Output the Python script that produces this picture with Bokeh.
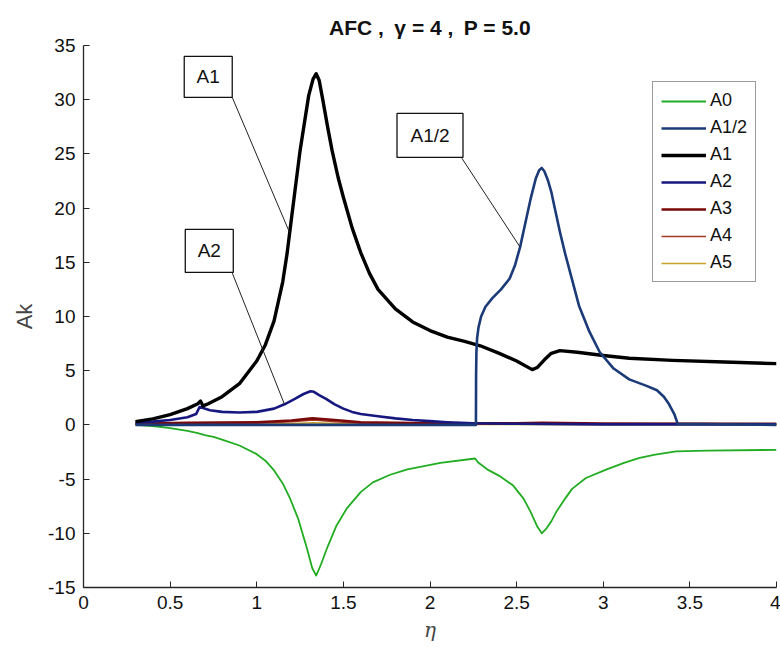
import numpy as np
from bokeh.plotting import figure
from bokeh.models import Range1d, FixedTicker, Legend, LegendItem
from bokeh.core.properties import value
from bokeh.embed import file_html
from bokeh.resources import INLINE

# ---------------- data ----------------
eta_a0 = [0.30, 0.40, 0.50, 0.60, 0.66, 0.70, 0.75, 0.80, 0.90, 1.00, 1.05, 1.10, 1.15, 1.19,
          1.24, 1.29, 1.32, 1.343, 1.37, 1.41, 1.46, 1.52, 1.60, 1.67, 1.77, 1.87, 2.06, 2.26,
          2.28, 2.33, 2.40, 2.48, 2.54, 2.58, 2.62, 2.645, 2.67, 2.70, 2.73, 2.78, 2.82, 2.90,
          3.02, 3.12, 3.21, 3.30, 3.42, 3.60, 4.00]
a0 = [0.0, -0.1, -0.3, -0.55, -0.75, -0.95, -1.1, -1.35, -1.9, -2.7, -3.3, -4.2, -5.4, -6.7,
      -8.7, -11.4, -13.2, -13.9, -12.9, -11.2, -9.3, -7.7, -6.2, -5.3, -4.6, -4.1, -3.5, -3.1,
      -3.5, -4.1, -4.7, -5.6, -6.8, -8.0, -9.4, -10.0, -9.6, -8.9, -8.0, -6.8, -5.9, -4.9,
      -4.1, -3.5, -3.05, -2.75, -2.45, -2.38, -2.3]

eta_a12 = [0.30, 2.265, 2.266, 2.268, 2.272, 2.28, 2.295, 2.32, 2.36, 2.41, 2.46, 2.49, 2.52,
           2.55, 2.58, 2.61, 2.63, 2.645, 2.66, 2.68, 2.70, 2.72, 2.75, 2.78, 2.81, 2.86, 2.92,
           2.98, 3.06, 3.15, 3.25, 3.31, 3.35, 3.38, 3.41, 3.43, 4.00]
a12 = [0.0, 0.0, 4.5, 6.8, 8.0, 9.0, 10.0, 10.9, 11.7, 12.5, 13.5, 14.7, 16.4,
       18.6, 20.8, 22.7, 23.5, 23.7, 23.4, 22.6, 21.5, 20.0, 17.8, 15.8, 14.0, 11.0, 8.6,
       6.7, 5.2, 4.2, 3.6, 3.2, 2.6, 1.9, 1.0, 0.1, 0.0]

eta_a1 = [0.30, 0.40, 0.50, 0.60, 0.66, 0.675, 0.69, 0.72, 0.80, 0.90, 1.00, 1.05, 1.10, 1.15,
          1.175, 1.20, 1.25, 1.30, 1.325, 1.343, 1.36, 1.38, 1.41, 1.435, 1.47, 1.50, 1.55,
          1.60, 1.65, 1.70, 1.80, 1.90, 2.00, 2.10, 2.20, 2.29, 2.40, 2.50, 2.59, 2.62, 2.66,
          2.70, 2.75, 2.85, 3.00, 3.15, 3.40, 3.70, 4.00]
a1 = [0.3, 0.55, 0.95, 1.5, 1.95, 2.2, 1.75, 1.95, 2.6, 3.8, 5.9, 7.4, 9.6, 13.2,
      15.8, 19.0, 25.3, 30.4, 31.9, 32.4, 31.8, 30.1, 27.4, 25.3, 22.8, 21.0, 18.2,
      15.9, 14.0, 12.5, 10.7, 9.5, 8.7, 8.1, 7.7, 7.3, 6.6, 5.9, 5.1, 5.3, 6.0,
      6.6, 6.85, 6.7, 6.4, 6.15, 5.95, 5.8, 5.65]

eta_a2 = [0.30, 0.40, 0.50, 0.60, 0.65, 0.67, 0.69, 0.73, 0.80, 0.90, 1.00, 1.10, 1.16, 1.22,
          1.27, 1.31, 1.33, 1.36, 1.40, 1.45, 1.50, 1.55, 1.60, 1.70, 1.80, 1.90, 2.00, 2.10,
          2.25, 2.50, 3.00, 4.00]
a2 = [0.2, 0.3, 0.45, 0.7, 1.0, 1.65, 1.55, 1.35, 1.2, 1.15, 1.2, 1.5, 1.9, 2.4,
      2.85, 3.1, 3.05, 2.75, 2.4, 1.9, 1.5, 1.2, 1.0, 0.8, 0.6, 0.45, 0.35, 0.25,
      0.15, 0.1, 0.05, 0.05]

eta_a3 = [0.30, 0.60, 1.00, 1.20, 1.32, 1.45, 1.60, 2.00, 2.50, 2.65, 3.00, 4.00]
a3 = [0.1, 0.2, 0.25, 0.4, 0.6, 0.45, 0.25, 0.15, 0.15, 0.2, 0.12, 0.1]

eta_a4 = [0.30, 0.60, 1.00, 1.20, 1.33, 1.45, 1.60, 2.00, 3.00, 4.00]
a4 = [0.05, 0.1, 0.15, 0.3, 0.45, 0.3, 0.15, 0.08, 0.05, 0.05]

eta_a5 = [0.30, 0.60, 1.00, 1.20, 1.33, 1.45, 1.60, 2.00, 3.00, 4.00]
a5 = [0.02, 0.04, 0.06, 0.12, 0.2, 0.12, 0.06, 0.04, 0.02, 0.02]

x_ticks = [0, 0.5, 1, 1.5, 2, 2.5, 3, 3.5, 4]
x_tick_labels = ["0", "0.5", "1", "1.5", "2", "2.5", "3", "3.5", "4"]
y_ticks = [-15, -10, -5, 0, 5, 10, 15, 20, 25, 30, 35]
y_tick_labels = ["-15", "-10", "-5", "0", "5", "10", "15", "20", "25", "30", "35"]

# annotations: text, box centre, leader start, target eta
ann_text = ["A1", "A2", "A1/2"]
ann_x = [0.72, 0.726, 2.0]
ann_y = [32.1, 16.05, 26.7]
ann_x0 = [0.859, 0.859, 2.184]
ann_y0 = [30.2, 14.0, 24.6]
ann_tx = [1.19, 1.16, 2.52]

# ---------------- figure ----------------
FONT = "Liberation Sans"
p = figure(width=780, height=657, output_backend="svg", toolbar_location=None,
           x_range=Range1d(0, 4), y_range=Range1d(-15, 35),
           min_border_left=83, min_border_right=4, min_border_top=45, min_border_bottom=70)
p.outline_line_color = None
p.xgrid.visible = False
p.ygrid.visible = False
p.background_fill_color = "white"
p.border_fill_color = "white"

p.title.text = "AFC ,\u2002\u03b3 = 4 ,\u2002P = 5.0"
p.title.align = "center"
p.title.vertical_align = "top"
p.title.text_font = FONT
p.title.text_font_size = "21px"
p.title.text_font_style = "bold"
p.title.text_color = "#111111"
p.title.offset = 0
p.title.standoff = 10

for ax in (p.xaxis[0], p.yaxis[0]):
    ax.axis_line_color = "#262626"
    ax.axis_line_width = 1.3
    ax.major_tick_line_color = "#262626"
    ax.major_tick_in = 6
    ax.major_tick_out = 0
    ax.minor_tick_line_color = None
    ax.major_label_text_font = FONT
    ax.major_label_text_font_size = "19px"
    ax.major_label_text_color = "#111111"
    ax.major_label_standoff = 8

p.xaxis.ticker = FixedTicker(ticks=x_ticks)
p.xaxis.major_label_overrides = {t: s for t, s in zip(x_ticks, x_tick_labels)}
p.yaxis.ticker = FixedTicker(ticks=y_ticks)
p.yaxis.major_label_overrides = {t: s for t, s in zip(y_ticks, y_tick_labels)}

p.xaxis.axis_label = "\u03b7"
p.xaxis.axis_label_text_font = "DejaVu Serif"
p.xaxis.axis_label_text_font_style = "italic"
p.xaxis.axis_label_text_font_size = "20px"
p.xaxis.axis_label_standoff = 6
p.yaxis.axis_label = "Ak"
p.yaxis.axis_label_text_font = FONT
p.yaxis.axis_label_text_font_style = "normal"
p.yaxis.axis_label_text_font_size = "22px"
p.yaxis.axis_label_standoff = 8

series = [
    ("A0", eta_a0, a0, "#22ac22", 1.8),
    ("A1/2", eta_a12, a12, "#1b3a78", 2.6),
    ("A1", eta_a1, a1, "#000000", 3.4),
    ("A2", eta_a2, a2, "#16187f", 2.6),
    ("A3", eta_a3, a3, "#7a0808", 2.6),
    ("A4", eta_a4, a4, "#a33a24", 1.5),
    ("A5", eta_a5, a5, "#c9a227", 1.6),
]
renderers = {}
draw_order = ["A0", "A5", "A4", "A3", "A2", "A1", "A1/2"]
lookup = {s[0]: s for s in series}
for name in draw_order:
    _, xs, ys, col, lw = lookup[name]
    renderers[name] = p.line(xs, ys, line_color=col, line_width=lw, line_join="round")

legend = Legend(items=[LegendItem(label=s[0], renderers=[renderers[s[0]]]) for s in series],
                location=(569, 305))
legend.label_text_font = FONT
legend.label_text_font_size = "18px"
legend.label_text_color = "#111111"
legend.label_height = 20
legend.glyph_height = 20
legend.glyph_width = 45
legend.label_standoff = 4
legend.spacing = 6
legend.padding = 8
legend.margin = 0
legend.border_line_color = "#333333"
legend.border_line_width = 1
legend.background_fill_color = "white"
legend.background_fill_alpha = 1
p.add_layout(legend)

# annotations with leader lines
data_of = {"A1": (eta_a1, a1), "A2": (eta_a2, a2), "A1/2": (eta_a12, a12)}
ty = [float(np.interp(tx, *data_of[t])) for t, tx in zip(ann_text, ann_tx)]
p.segment(x0=ann_x0, y0=ann_y0, x1=ann_tx, y1=ty, line_color="#222222", line_width=1)
box_w = [48, 48, 66]
p.rect(x=ann_x, y=ann_y, width=box_w, height=[41, 43, 44], width_units="screen",
       height_units="screen", fill_color="white", line_color="#111111", line_width=1.3)
p.text(x=ann_x, y=ann_y, text=ann_text, text_font=value(FONT), text_font_size="19px",
       text_align="center", text_baseline="middle", text_color="#111111")

open("out.html", "w").write(file_html(p, INLINE))
